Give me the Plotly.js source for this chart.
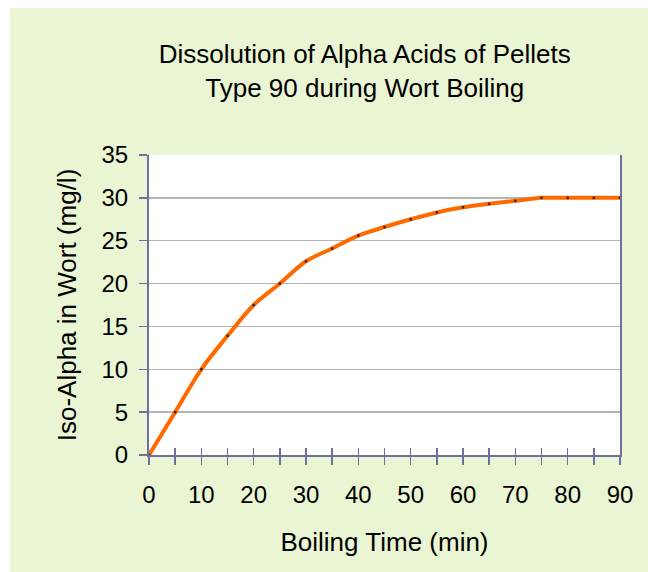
<!DOCTYPE html>
<html>
<head>
<meta charset="utf-8">
<script src="https://cdn.plot.ly/plotly-3.0.1.min.js"></script>
<style>
  html, body { margin: 0; padding: 0; background: #ffffff; width: 648px; height: 572px; overflow: hidden; }
  #chart { position: absolute; left: 10px; top: 8px; width: 638px; height: 564px; }
</style>
</head>
<body>
<div id="chart"></div>
<script>
// Data
const timeMin = [0, 5, 10, 15, 20, 25, 30, 35, 40, 45, 50, 55, 60, 65, 70, 75, 80, 85, 90];
const isoAlpha = [0, 5.0, 10.0, 13.9, 17.5, 20.0, 22.6, 24.1, 25.6, 26.6, 27.5, 28.3, 28.9, 29.3, 29.65, 30, 30, 30, 30];
const xTickVals = [0, 10, 20, 30, 40, 50, 60, 70, 80, 90];
const yTickVals = [0, 5, 10, 15, 20, 25, 30, 35];

const titleText = 'Dissolution of Alpha Acids of Pellets<br>Type 90 during Wort Boiling';
const xTitle = 'Boiling Time (min)';
const yTitle = 'Iso-Alpha in Wort (mg/l)';

const FONT = 'Arial, "Liberation Sans", Helvetica, sans-serif';
const AXIS_COLOR = '#6f6fa0';
const GRID_COLOR = '#b4b4b4';

const traces = [
  {
    x: timeMin,
    y: isoAlpha,
    type: 'scatter',
    mode: 'lines+markers',
    line: { color: '#ff6a00', width: 4, shape: 'spline', smoothing: 1 },
    marker: { symbol: 'square', size: 2.5, color: '#3a2a1a' },
    hoverinfo: 'x+y',
    showlegend: false
  },
  {
    // invisible companion trace so the overlay axis (inner tick halves) is drawn
    x: timeMin,
    y: isoAlpha,
    xaxis: 'x2',
    type: 'scatter',
    mode: 'lines',
    line: { width: 0 },
    opacity: 0,
    hoverinfo: 'skip',
    showlegend: false
  }
];

const layout = {
  width: 638,
  height: 564,
  paper_bgcolor: '#eaf5d3',
  plot_bgcolor: '#ffffff',
  margin: { l: 139, r: 28, t: 147, b: 117 },
  font: { family: FONT, color: '#000000', size: 24 },
  title: {
    text: titleText,
    font: { family: FONT, size: 26, color: '#000000' },
    x: 0.556,
    xanchor: 'center',
    xref: 'container',
    y: 0.902,
    yanchor: 'top',
    yref: 'container'
  },
  xaxis: {
    range: [0, 90],
    tickmode: 'array',
    tickvals: xTickVals,
    ticks: 'outside',
    ticklen: 8,
    tickwidth: 1.5,
    tickcolor: AXIS_COLOR,
    minor: { dtick: 5, tick0: 0, ticks: 'outside', ticklen: 8, tickwidth: 1.5, tickcolor: AXIS_COLOR, showgrid: false },
    showline: true,
    linecolor: AXIS_COLOR,
    linewidth: 2,
    showgrid: false,
    zeroline: false,
    tickfont: { family: FONT, size: 24 },
    ticklabelstandoff: 9,
    title: { text: xTitle, font: { family: FONT, size: 26 }, standoff: 26 }
  },
  xaxis2: {
    range: [0, 90],
    overlaying: 'x',
    anchor: 'y',
    side: 'bottom',
    dtick: 5,
    tick0: 0,
    ticks: 'inside',
    ticklen: 7,
    tickwidth: 1.5,
    tickcolor: AXIS_COLOR,
    showticklabels: false,
    showline: false,
    showgrid: false,
    zeroline: false
  },
  yaxis: {
    range: [0, 35],
    tickmode: 'array',
    tickvals: yTickVals,
    ticks: 'outside',
    ticklen: 8,
    tickwidth: 1.5,
    tickcolor: AXIS_COLOR,
    showline: true,
    mirror: true,
    linecolor: AXIS_COLOR,
    linewidth: 2,
    showgrid: true,
    gridcolor: GRID_COLOR,
    gridwidth: 1.5,
    zeroline: false,
    tickfont: { family: FONT, size: 24 },
    ticklabelstandoff: 6,
    title: { text: yTitle, font: { family: FONT, size: 26 }, standoff: 17 }
  }
};

Plotly.newPlot('chart', traces, layout, { staticPlot: true, displayModeBar: false });
</script>
</body>
</html>
